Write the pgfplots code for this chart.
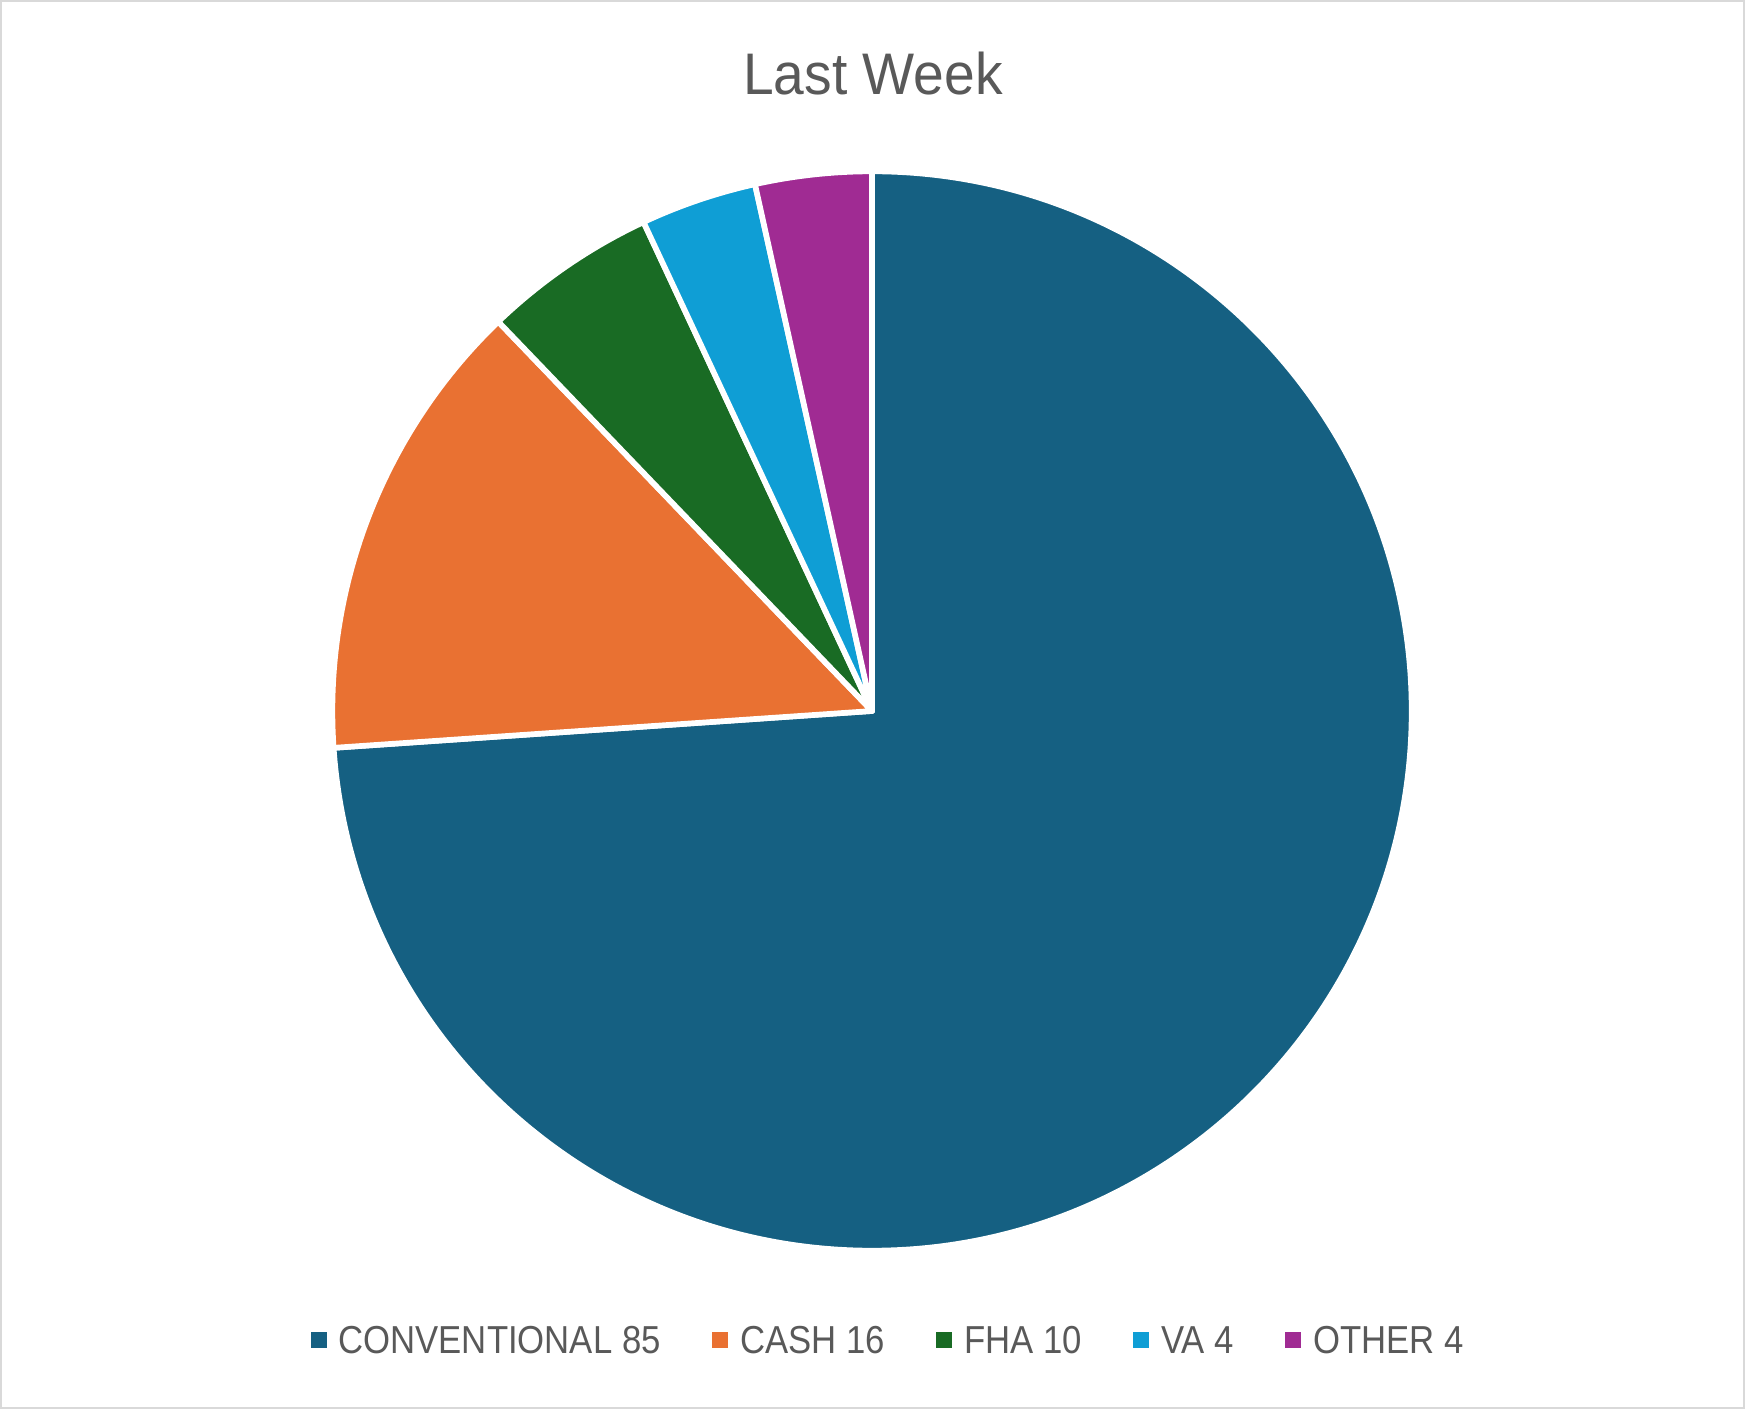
\documentclass[border=0pt]{standalone}
\usepackage{pgfplots}
\pgfplotsset{compat=1.18}
\usepackage{pgfplotstable}
\usepackage{fontspec}
\setmainfont{Liberation Sans}
\newfontfamily\titlefont[FakeStretch=0.94]{Liberation Sans}
\newfontfamily\legendfont[FakeStretch=0.89]{Liberation Sans}

\definecolor{conv}{RGB}{21,96,130}
\definecolor{cash}{RGB}{233,113,50}
\definecolor{fha}{RGB}{25,107,36}
\definecolor{va}{RGB}{15,158,213}
\definecolor{other}{RGB}{160,43,147}
\definecolor{txt}{RGB}{89,89,89}
\definecolor{framegray}{RGB}{217,217,217}

% slice sizes as drawn (the FHA slice is drawn at 6 although its label says 10)
\pgfplotstableread[col sep=comma]{
name,value,colour
CONVENTIONAL 85,85,conv
CASH 16,16,cash
FHA 10,6,fha
VA 4,4,va
OTHER 4,4,other
}\slices

\pgfplotstablegetrowsof{\slices}
\pgfmathtruncatemacro\lastrow{\pgfplotsretval-1}

\begin{document}
\begin{tikzpicture}
\begin{axis}[
  width=523.5pt, height=422.7pt, scale only axis,
  xmin=0, xmax=1745, ymin=0, ymax=1409,
  hide axis, clip=false,
  legend columns=5,
  legend style={at={(axis cs:887,69)}, anchor=center, draw=none, fill=none,
    font=\legendfont\fontsize{11.7}{14}\selectfont, text=txt,
    nodes={inner sep=0pt, text depth=0pt},
    /tikz/every odd column/.append style={column sep=3.6pt},
    /tikz/every even column/.append style={column sep=15.4pt}},
  legend image code/.code={\fill[#1, draw=none] (0pt,-2.4pt) rectangle (4.8pt,2.4pt);},
]
% legend entries from the table
\pgfplotsforeachungrouped \i in {0,...,\lastrow}{%
  \pgfplotstablegetelem{\i}{colour}\of\slices
  \edef\cmd{\noexpand\addlegendimage{fill=\pgfplotsretval, draw=none}}\cmd
  \pgfplotstablegetelem{\i}{name}\of\slices
  \addlegendentryexpanded{\pgfplotsretval}}

% wedges, clockwise from 12 o'clock
\pgfplotsextra{
  \def\total{0}
  \pgfplotsforeachungrouped \i in {0,...,\lastrow}{%
    \pgfplotstablegetelem{\i}{value}\of\slices
    \pgfmathsetmacro\total{\total+\pgfplotsretval}}
  \def\angA{90}
  \pgfplotsforeachungrouped \i in {0,...,\lastrow}{%
    \pgfplotstablegetelem{\i}{value}\of\slices
    \pgfmathsetmacro\angB{\angA-\pgfplotsretval/\total*360}
    \pgfplotstablegetelem{\i}{colour}\of\slices
    \edef\slicecol{\pgfplotsretval}
    \filldraw[fill=\slicecol, draw=white, line width=1.7pt, line join=round]
      (axis cs:872,698) -- ++(\angA:161.9pt)
      arc[start angle=\angA, end angle=\angB, radius=161.9pt] -- cycle;
    \let\angA\angB}
}

\node[anchor=base, font=\titlefont\fontsize{17.6}{20}\selectfont, text=txt]
  at (axis cs:873,1314) {Last Week};
\draw[framegray, line width=0.6pt] (axis cs:1,1) rectangle (axis cs:1744,1408);
\end{axis}
\end{tikzpicture}
\end{document}
